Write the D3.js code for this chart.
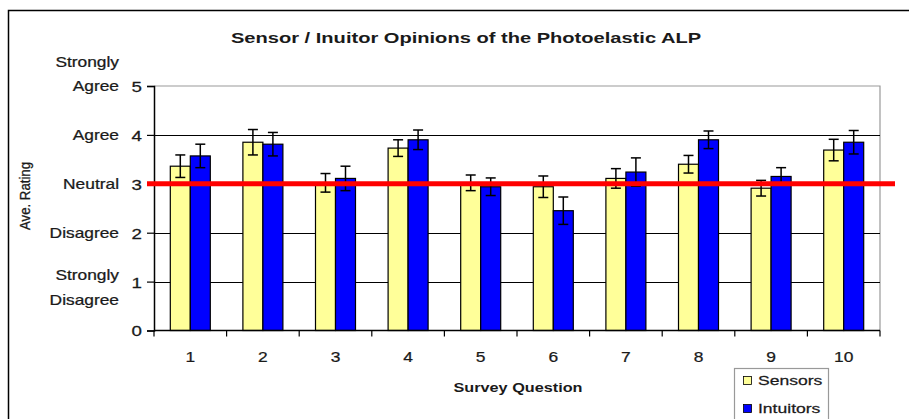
<!DOCTYPE html>
<html>
<head>
<meta charset="utf-8">
<script src="https://cdn.jsdelivr.net/npm/d3@7/dist/d3.min.js"></script>
<style>
  html, body { margin: 0; padding: 0; background: #fff; }
  svg { display: block; font-family: "Liberation Sans", Arial, sans-serif; }
</style>
</head>
<body>
<svg id="chart" width="909" height="419"></svg>
<script>
// Survey questions and mean ratings with error-bar half-widths
const questions = ["1", "2", "3", "4", "5", "6", "7", "8", "9", "10"];
const sensors = [3.36, 3.85, 3.02, 3.73, 3.02, 2.94, 3.11, 3.40, 2.91, 3.69];
const sensorsErr = [0.23, 0.26, 0.19, 0.17, 0.16, 0.22, 0.20, 0.18, 0.16, 0.22];
const intuitors = [3.57, 3.81, 3.11, 3.90, 2.94, 2.45, 3.24, 3.90, 3.15, 3.85];
const intuitorsErr = [0.24, 0.24, 0.25, 0.20, 0.18, 0.28, 0.29, 0.18, 0.18, 0.24];
const seriesNames = ["Sensors", "Intuitors"];
const seriesColors = ["#FFFF99", "#0000FF"];
const yTicks = [0, 1, 2, 3, 4, 5];
const yWords = [["Strongly", "Disagree"], ["Disagree"], ["Neutral"], ["Agree"], ["Strongly", "Agree"]];
const neutralValue = 3;

const svg = d3.select("#chart");
const plotLeft = 154, plotRight = 880, plotTop = 86, plotBottom = 330.5;
const SX = 1.3;          // horizontal widening of the chart's typeface
const INK = "#1a1a1a";

// Place a text item whose glyphs are widened horizontally
function label(parent, x, y, str, opts = {}) {
  return parent.append("text")
    .attr("transform", `translate(${x},${y}) scale(${opts.sx || SX},1)`)
    .attr("text-anchor", opts.anchor || "start")
    .attr("font-size", opts.size || 14)
    .attr("font-weight", opts.weight || "normal")
    .attr("fill", INK)
    .attr("stroke", INK).attr("stroke-width", opts.stroke == null ? 0.25 : opts.stroke)
    .text(str);
}

// Outer chart frame
svg.append("rect")
  .attr("x", 8.5).attr("y", 10.5).attr("width", 920).attr("height", 430)
  .attr("fill", "none").attr("stroke", "#000").attr("stroke-width", 1.5);

// Title
label(svg, 466, 43, "Sensor / Inuitor Opinions of the Photoelastic ALP",
  { anchor: "middle", size: 15, weight: "bold", sx: 1.34, stroke: 0 });

const x0 = d3.scaleBand().domain(questions).range([plotLeft, plotRight]).paddingInner(0).paddingOuter(0);
const x1 = d3.scaleBand().domain([0, 1]).range([x0.bandwidth() / 2 - 20, x0.bandwidth() / 2 + 20]);
const y = d3.scaleLinear().domain([0, 5]).range([plotBottom, plotTop]);

// Plot border (top and right) in grey
svg.append("path")
  .attr("d", `M${plotLeft},${y(5)}H${plotRight}V${plotBottom}`)
  .attr("fill", "none").attr("stroke", "#999").attr("stroke-width", 1.2);

// Gridlines
svg.append("g").selectAll("line")
  .data(yTicks.filter(t => t > 0 && t < 5))
  .join("line")
  .attr("x1", plotLeft).attr("x2", plotRight)
  .attr("y1", d => Math.round(y(d)) + 0.5).attr("y2", d => Math.round(y(d)) + 0.5)
  .attr("stroke", "#000").attr("stroke-width", 1.2);

// Y axis
const yAxis = svg.append("g")
  .attr("transform", `translate(${plotLeft},0)`)
  .call(d3.axisLeft(y).tickValues(yTicks).tickSize(7).tickPadding(5).tickFormat(d3.format("d")));
yAxis.select(".domain").attr("stroke", "#000").attr("stroke-width", 1.5);
yAxis.selectAll(".tick line").attr("stroke", "#000").attr("stroke-width", 1.2);
yAxis.selectAll(".tick text")
  .attr("x", null).attr("dy", "0.36em")
  .attr("transform", `translate(-12,0) scale(1.25,1)`)
  .attr("font-size", 15).attr("fill", INK).attr("stroke", INK).attr("stroke-width", 0.25)
  .attr("font-family", "Liberation Sans, Arial, sans-serif");

// Word labels beside the tick numbers
const words = svg.append("g");
yWords.forEach((lines, i) => {
  const v = i + 1;
  const cy = y(v);
  const n = lines.length;
  lines.forEach((ln, j) => {
    let yy;
    if (n === 1) yy = cy + 5;
    else if (v === 5) yy = cy + 5 - (n - 1 - j) * 24;
    else yy = cy - 2 + j * 25;
    label(words, 119, yy, ln, { anchor: "end", size: 14, sx: 1.24 });
  });
});

// Y axis title
svg.append("text")
  .attr("transform", "translate(30,196) rotate(-90) scale(1.15,1.25)")
  .attr("text-anchor", "middle")
  .attr("font-size", 11.5).attr("fill", INK).attr("stroke", INK).attr("stroke-width", 0.25)
  .text("Ave. Rating");

// Bars
const data = questions.map((q, i) => ({
  q,
  vals: [
    { s: 0, v: sensors[i], e: sensorsErr[i] },
    { s: 1, v: intuitors[i], e: intuitorsErr[i] }
  ]
}));

const groups = svg.append("g").selectAll("g")
  .data(data).join("g")
  .attr("transform", d => `translate(${x0(d.q)},0)`);

groups.selectAll("rect")
  .data(d => d.vals).join("rect")
  .attr("x", d => x1(d.s))
  .attr("y", d => y(d.v))
  .attr("width", x1.bandwidth())
  .attr("height", d => y(0) - y(d.v))
  .attr("fill", d => seriesColors[d.s])
  .attr("stroke", "#000").attr("stroke-width", 1.2);

// Error bars
const eb = groups.selectAll("g.err")
  .data(d => d.vals).join("g").attr("class", "err")
  .attr("stroke", "#000").attr("stroke-width", 1.5);
eb.append("line")
  .attr("x1", d => x1(d.s) + x1.bandwidth() / 2).attr("x2", d => x1(d.s) + x1.bandwidth() / 2)
  .attr("y1", d => y(d.v + d.e)).attr("y2", d => y(d.v - d.e));
eb.append("line")
  .attr("x1", d => x1(d.s) + x1.bandwidth() / 2 - 5).attr("x2", d => x1(d.s) + x1.bandwidth() / 2 + 5)
  .attr("y1", d => y(d.v + d.e)).attr("y2", d => y(d.v + d.e));
eb.append("line")
  .attr("x1", d => x1(d.s) + x1.bandwidth() / 2 - 5).attr("x2", d => x1(d.s) + x1.bandwidth() / 2 + 5)
  .attr("y1", d => y(d.v - d.e)).attr("y2", d => y(d.v - d.e));

// X axis with ticks at category boundaries
const xAxis = svg.append("g").attr("transform", `translate(0,${plotBottom})`);
xAxis.append("line").attr("x1", plotLeft).attr("x2", plotRight).attr("stroke", "#000").attr("stroke-width", 1.5);
const bounds = questions.map(q => x0(q)).concat([plotRight]);
xAxis.selectAll("line.tk").data(bounds).join("line").attr("class", "tk")
  .attr("x1", d => d).attr("x2", d => d).attr("y1", 0).attr("y2", 6)
  .attr("stroke", "#000").attr("stroke-width", 1.2);
questions.forEach(q => {
  label(xAxis, x0(q) + x0.bandwidth() / 2, 31.5, q, { anchor: "middle", size: 14.5, sx: 1.2 });
});

// X axis title
label(svg, 518, 392, "Survey Question", { anchor: "middle", size: 12.5, weight: "bold", sx: 1.3, stroke: 0 });

// Neutral reference line
svg.append("line")
  .attr("x1", 147).attr("x2", 895)
  .attr("y1", y(neutralValue)).attr("y2", y(neutralValue))
  .attr("stroke", "#FF0000").attr("stroke-width", 5);

// Legend
const lg = svg.append("g");
lg.append("rect")
  .attr("x", 734.5).attr("y", 368.5).attr("width", 94).attr("height", 60)
  .attr("fill", "#fff").attr("stroke", "#999").attr("stroke-width", 1.2);
seriesNames.forEach((name, i) => {
  const yy = 376.5 + i * 28;
  lg.append("rect")
    .attr("x", 743.5).attr("y", yy).attr("width", 8).attr("height", 8)
    .attr("fill", seriesColors[i]).attr("stroke", "#000").attr("stroke-width", 0.8);
  label(lg, 758, yy + 8, name, { size: 13.5, sx: 1.3 });
});
</script>
</body>
</html>
